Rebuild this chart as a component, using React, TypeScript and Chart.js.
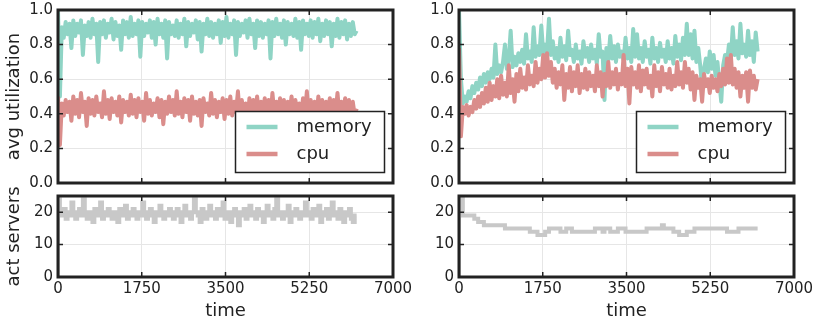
import React, { useEffect, useRef } from 'react';
import { Chart, registerables } from 'chart.js';

Chart.register(...registerables);

const FONT = "'DejaVu Sans', sans-serif";
const INK = '#222222';
const MEM_COLOR = '#8fd4c5';
const CPU_COLOR = '#da8d8b';
const SRV_COLOR = '#c8c8c8';
const GRID_COLOR = '#e6e6e6';

// simulation time between samples
const SAMPLE_STEP = 40;
const TIME_MAX = 7000;
const TIME_TICK = 1750;

const SERIES_LABELS = ['memory', 'cpu'];
const Y_TITLE_TOP = 'avg utilization';
const Y_TITLE_BOTTOM = 'act servers';
const X_TITLE = 'time';

const leftMemory = [
  1.00, 0.50, 0.90, 0.84, 0.93, 0.86, 0.92, 0.78, 0.94, 0.85,
  0.92, 0.87, 0.94, 0.74, 0.91, 0.85, 0.93, 0.84, 0.95, 0.86,
  0.92, 0.70, 0.93, 0.86, 0.94, 0.84, 0.92, 0.87, 0.95, 0.83,
  0.93, 0.85, 0.91, 0.77, 0.94, 0.86, 0.93, 0.84, 0.96, 0.85,
  0.92, 0.86, 0.94, 0.73, 0.93, 0.85, 0.92, 0.87, 0.94, 0.84,
  0.93, 0.80, 0.95, 0.86, 0.92, 0.84, 0.94, 0.72, 0.93, 0.86,
  0.91, 0.85, 0.94, 0.84, 0.92, 0.86, 0.95, 0.79, 0.93, 0.85,
  0.92, 0.87, 0.94, 0.83, 0.93, 0.76, 0.92, 0.86, 0.95, 0.85,
  0.93, 0.84, 0.92, 0.86, 0.94, 0.81, 0.93, 0.85, 0.96, 0.84,
  0.92, 0.86, 0.94, 0.74, 0.93, 0.85, 0.92, 0.87, 0.94, 0.84,
  0.95, 0.86, 0.92, 0.78, 0.94, 0.85, 0.93, 0.84, 0.92, 0.86,
  0.94, 0.72, 0.93, 0.85, 0.95, 0.86, 0.92, 0.84, 0.94, 0.80,
  0.93, 0.86, 0.92, 0.85, 0.95, 0.84, 0.93, 0.77, 0.94, 0.86,
  0.92, 0.85, 0.94, 0.84, 0.93, 0.86, 0.95, 0.82, 0.92, 0.85,
  0.94, 0.86, 0.93, 0.79, 0.92, 0.85, 0.95, 0.84, 0.93, 0.86,
  0.94, 0.83, 0.92, 0.85, 0.93, 0.86, 0.88,
];

const leftCpu = [
  0.50, 0.22, 0.46, 0.39, 0.48, 0.41, 0.47, 0.36, 0.50, 0.40,
  0.48, 0.38, 0.52, 0.41, 0.47, 0.33, 0.49, 0.40, 0.48, 0.39,
  0.50, 0.41, 0.46, 0.38, 0.53, 0.40, 0.48, 0.37, 0.49, 0.41,
  0.47, 0.39, 0.50, 0.35, 0.48, 0.41, 0.47, 0.39, 0.51, 0.40,
  0.48, 0.38, 0.49, 0.41, 0.47, 0.36, 0.52, 0.40, 0.48, 0.39,
  0.46, 0.41, 0.49, 0.38, 0.48, 0.34, 0.47, 0.40, 0.50, 0.41,
  0.48, 0.39, 0.53, 0.40, 0.47, 0.38, 0.49, 0.41, 0.48, 0.36,
  0.50, 0.40, 0.47, 0.39, 0.48, 0.33, 0.49, 0.41, 0.46, 0.39,
  0.52, 0.40, 0.48, 0.38, 0.47, 0.41, 0.49, 0.37, 0.48, 0.40,
  0.50, 0.39, 0.47, 0.41, 0.53, 0.38, 0.48, 0.40, 0.46, 0.35,
  0.49, 0.41, 0.48, 0.39, 0.50, 0.40, 0.47, 0.38, 0.49, 0.41,
  0.48, 0.36, 0.52, 0.40, 0.47, 0.39, 0.49, 0.41, 0.48, 0.34,
  0.47, 0.40, 0.50, 0.39, 0.48, 0.41, 0.46, 0.38, 0.49, 0.40,
  0.53, 0.39, 0.48, 0.41, 0.47, 0.37, 0.50, 0.40, 0.48, 0.39,
  0.47, 0.41, 0.49, 0.38, 0.48, 0.40, 0.52, 0.39, 0.47, 0.41,
  0.49, 0.37, 0.48, 0.40, 0.47, 0.39, 0.43,
];

const leftServers = [
  0, 24, 20, 19, 21, 18, 20, 19, 23, 20,
  18, 20, 21, 19, 24, 20, 18, 19, 20, 17,
  21, 19, 20, 23, 18, 20, 19, 21, 20, 18,
  20, 19, 17, 21, 20, 19, 22, 18, 20, 19,
  21, 20, 18, 19, 20, 23, 19, 18, 20, 21,
  19, 17, 20, 19, 22, 20, 18, 20, 19, 21,
  20, 18, 19, 21, 20, 17, 20, 22, 19, 20,
  18, 20, 24, 20, 19, 17, 21, 20, 18, 19,
  22, 20, 19, 18, 21, 19, 20, 23, 18, 20,
  19, 17, 20, 21, 19, 16, 20, 19, 21, 18,
  20, 22, 19, 20, 18, 21, 20, 19, 17, 20,
  22, 19, 20, 18, 21, 24, 19, 20, 18, 20,
  19, 22, 17, 20, 19, 21, 20, 18, 19, 20,
  23, 19, 20, 18, 21, 19, 20, 22, 17, 20,
  19, 21, 18, 20, 23, 19, 20, 18, 21, 19,
  17, 20, 19, 21, 18, 17, 19,
];

const rightMemory = [
  1.00, 0.60, 0.46, 0.50, 0.47, 0.53, 0.49, 0.56, 0.52, 0.58,
  0.54, 0.61, 0.56, 0.63, 0.58, 0.64, 0.60, 0.66, 0.61, 0.80,
  0.63, 0.68, 0.64, 0.70, 0.80, 0.66, 0.72, 0.88, 0.67, 0.73,
  0.68, 0.75, 0.70, 0.77, 0.69, 0.86, 0.72, 0.76, 0.70, 0.90,
  0.73, 0.79, 0.74, 0.91, 0.75, 0.80, 0.76, 0.95, 0.74, 0.82,
  0.72, 0.78, 0.70, 0.84, 0.73, 0.79, 0.71, 0.88, 0.74, 0.77,
  0.70, 0.80, 0.72, 0.76, 0.69, 0.82, 0.73, 0.78, 0.70, 0.80,
  0.72, 0.77, 0.69, 0.86, 0.73, 0.76, 0.48, 0.78, 0.71, 0.85,
  0.72, 0.79, 0.70, 0.80, 0.73, 0.76, 0.71, 0.84, 0.72, 0.78,
  0.70, 0.89, 0.73, 0.86, 0.72, 0.78, 0.70, 0.82, 0.73, 0.77,
  0.69, 0.84, 0.72, 0.78, 0.70, 0.81, 0.73, 0.77, 0.70, 0.82,
  0.72, 0.78, 0.69, 0.85, 0.73, 0.80, 0.71, 0.84, 0.74, 0.92,
  0.74, 0.86, 0.72, 0.88, 0.70, 0.78, 0.68, 0.55, 0.66, 0.72,
  0.64, 0.76, 0.66, 0.74, 0.62, 0.70, 0.58, 0.47, 0.68, 0.74,
  0.70, 0.80, 0.72, 0.90, 0.74, 0.82, 0.72, 0.92, 0.75, 0.80,
  0.73, 0.88, 0.74, 0.82, 0.70, 0.87, 0.76,
];

const rightCpu = [
  0.78, 0.27, 0.44, 0.40, 0.45, 0.39, 0.44, 0.41, 0.48, 0.43,
  0.50, 0.44, 0.52, 0.46, 0.55, 0.47, 0.58, 0.48, 0.56, 0.50,
  0.60, 0.49, 0.62, 0.51, 0.58, 0.50, 0.68, 0.52, 0.60, 0.47,
  0.63, 0.53, 0.66, 0.55, 0.61, 0.54, 0.68, 0.57, 0.62, 0.56,
  0.70, 0.58, 0.66, 0.60, 0.74, 0.61, 0.75, 0.62, 0.70, 0.58,
  0.66, 0.55, 0.64, 0.57, 0.68, 0.48, 0.63, 0.55, 0.67, 0.53,
  0.64, 0.56, 0.68, 0.52, 0.63, 0.55, 0.66, 0.54, 0.64, 0.56,
  0.62, 0.53, 0.68, 0.56, 0.64, 0.50, 0.63, 0.56, 0.70, 0.55,
  0.64, 0.57, 0.66, 0.54, 0.63, 0.57, 0.74, 0.56, 0.66, 0.46,
  0.67, 0.57, 0.64, 0.55, 0.68, 0.53, 0.65, 0.57, 0.66, 0.55,
  0.62, 0.50, 0.68, 0.56, 0.64, 0.53, 0.67, 0.57, 0.63, 0.55,
  0.66, 0.54, 0.62, 0.56, 0.70, 0.57, 0.64, 0.55, 0.70, 0.58,
  0.66, 0.54, 0.64, 0.48, 0.62, 0.55, 0.60, 0.47, 0.63, 0.56,
  0.60, 0.52, 0.62, 0.55, 0.60, 0.53, 0.63, 0.56, 0.66, 0.57,
  0.72, 0.58, 0.74, 0.57, 0.66, 0.55, 0.64, 0.50, 0.62, 0.55,
  0.64, 0.47, 0.65, 0.55, 0.62, 0.54, 0.60,
];

const rightServers = [
  0, 25, 25, 19, 19, 19, 19, 19, 19, 18,
  18, 17, 17, 17, 16, 16, 16, 16, 16, 16,
  16, 16, 16, 16, 16, 15, 15, 15, 15, 15,
  15, 15, 15, 15, 15, 15, 15, 15, 14, 14,
  14, 14, 13, 13, 13, 13, 14, 14, 15, 15,
  15, 15, 15, 15, 14, 14, 14, 15, 15, 15,
  14, 14, 14, 14, 14, 14, 14, 14, 14, 14,
  14, 14, 15, 15, 15, 15, 14, 15, 15, 15,
  14, 14, 14, 14, 15, 15, 15, 15, 14, 14,
  14, 14, 14, 14, 14, 14, 14, 14, 14, 15,
  15, 15, 15, 15, 15, 15, 15, 16, 15, 15,
  15, 15, 15, 14, 14, 14, 13, 13, 13, 13,
  14, 14, 14, 14, 15, 15, 15, 15, 15, 15,
  15, 15, 15, 15, 15, 15, 15, 15, 15, 15,
  15, 14, 14, 14, 14, 14, 14, 15, 15, 15,
  15, 15, 15, 15, 15, 15, 15,
];

const toPoints = (vals: number[]) => vals.map((v, i) => ({ x: i * SAMPLE_STEP, y: v }));

const frameLegendPlugin = {
  id: 'frameLegend',
  afterDatasetsDraw(chart: any, _args: any, opts: any) {
    const { ctx, chartArea, scales } = chart;
    const { left, right, top, bottom } = chartArea;
    ctx.save();
    // inward tick marks on all four sides
    ctx.strokeStyle = INK;
    ctx.lineWidth = 1.5;
    const L = 5;
    ctx.beginPath();
    scales.x.ticks.forEach((t: any) => {
      const px = scales.x.getPixelForValue(t.value);
      ctx.moveTo(px, bottom);
      ctx.lineTo(px, bottom - L);
      ctx.moveTo(px, top);
      ctx.lineTo(px, top + L);
    });
    scales.y.ticks.forEach((t: any) => {
      const py = scales.y.getPixelForValue(t.value);
      ctx.moveTo(left, py);
      ctx.lineTo(left + L, py);
      ctx.moveTo(right, py);
      ctx.lineTo(right - L, py);
    });
    ctx.stroke();
    // frame
    ctx.lineWidth = 3;
    ctx.strokeRect(left, top, right - left, bottom - top);

    if (opts && opts.show) {
      const bw = 149;
      const bh = 61;
      const bx = right - 8.5 - bw;
      const by = bottom - 10.5 - bh;
      ctx.fillStyle = '#ffffff';
      ctx.fillRect(bx, by, bw, bh);
      ctx.lineWidth = 1.5;
      ctx.strokeStyle = INK;
      ctx.strokeRect(bx, by, bw, bh);
      ctx.font = `18px ${FONT}`;
      ctx.textBaseline = 'middle';
      ctx.textAlign = 'left';
      chart.data.datasets.forEach((ds: any, i: number) => {
        const y = by + 15.5 + i * 27;
        ctx.strokeStyle = ds.borderColor;
        ctx.lineWidth = 4.5;
        ctx.lineCap = 'butt';
        ctx.beginPath();
        ctx.moveTo(bx + 11, y);
        ctx.lineTo(bx + 42, y);
        ctx.stroke();
        ctx.fillStyle = INK;
        ctx.fillText(ds.label, bx + 61, y + 0.5);
      });
    }
    ctx.restore();
  },
};

type PanelSpec = {
  x: number;
  y: number;
  w: number;
  h: number;
  pad: { left: number; right: number; top: number; bottom: number };
  yWidth: number;
  xHeight: number;
  showX: boolean;
  yTitle: string | null;
  top: boolean;
  datasets: any[];
};

function buildConfig(p: PanelSpec): any {
  const yScale: any = p.top
    ? { min: 0, max: 1, ticks: { stepSize: 0.2, callback: (v: any) => Number(v).toFixed(1) } }
    : { min: 0, max: 25, ticks: { stepSize: 10, includeBounds: false, callback: (v: any) => String(v) } };
  return {
    type: 'line',
    data: { datasets: p.datasets },
    options: {
      responsive: false,
      maintainAspectRatio: false,
      animation: false,
      devicePixelRatio: 1,
      events: [],
      layout: { padding: p.pad },
      plugins: {
        legend: { display: false },
        tooltip: { enabled: false },
        frameLegend: { show: p.top },
      },
      scales: {
        x: {
          type: 'linear',
          min: 0,
          max: TIME_MAX,
          ticks: {
            stepSize: TIME_TICK,
            display: p.showX,
            autoSkip: false,
            maxRotation: 0,
            padding: 3,
            color: INK,
            font: { family: FONT, size: 15 },
            callback: (v: any) => String(v),
          },
          grid: { color: GRID_COLOR, lineWidth: 1, drawTicks: false },
          border: { display: false },
          title: {
            display: p.showX,
            text: X_TITLE,
            color: INK,
            font: { family: FONT, size: 18 },
            padding: { top: 0, bottom: 2 },
          },
          afterFit: (s: any) => {
            s.height = p.xHeight;
            s.paddingLeft = 0;
            s.paddingRight = 0;
          },
        },
        y: {
          type: 'linear',
          ...yScale,
          ticks: {
            ...yScale.ticks,
            padding: 5,
            color: INK,
            font: { family: FONT, size: 15 },
          },
          grid: { color: GRID_COLOR, lineWidth: 1, drawTicks: false },
          border: { display: false },
          title: {
            display: !!p.yTitle,
            text: p.yTitle || '',
            color: INK,
            font: { family: FONT, size: 18 },
            padding: { top: 4, bottom: 0 },
          },
          afterFit: (s: any) => {
            s.width = p.yWidth;
            s.paddingTop = 0;
            s.paddingBottom = 0;
          },
        },
      },
    },
    plugins: [frameLegendPlugin],
  };
}

const lineStyle = {
  pointRadius: 0,
  borderWidth: 4,
  tension: 0,
  fill: false,
  clip: 0,
  borderJoinStyle: 'round',
};

function utilDatasets(mem: number[], cpu: number[]) {
  return [
    { ...lineStyle, label: SERIES_LABELS[0], data: toPoints(mem), borderColor: MEM_COLOR, order: 2 },
    { ...lineStyle, label: SERIES_LABELS[1], data: toPoints(cpu), borderColor: CPU_COLOR, order: 1 },
  ];
}

function serverDatasets(srv: number[]) {
  return [
    { ...lineStyle, label: 'servers', data: toPoints(srv), borderColor: SRV_COLOR, stepped: 'after', borderJoinStyle: 'miter' },
  ];
}

function Panel({ spec }: { spec: PanelSpec }) {
  const ref = useRef<HTMLCanvasElement | null>(null);
  useEffect(() => {
    if (!ref.current) return;
    const chart = new Chart(ref.current, buildConfig(spec));
    return () => chart.destroy();
  }, []);
  return (
    <canvas
      ref={ref}
      width={spec.w}
      height={spec.h}
      style={{ position: 'absolute', left: spec.x, top: spec.y, width: spec.w, height: spec.h }}
    />
  );
}

const panels: PanelSpec[] = [
  {
    x: 0, y: 0, w: 416, h: 190,
    pad: { left: 0, right: 23, top: 10, bottom: 7 },
    yWidth: 58, xHeight: 0, showX: false, yTitle: Y_TITLE_TOP, top: true,
    datasets: utilDatasets(leftMemory, leftCpu),
  },
  {
    x: 0, y: 170, w: 416, h: 154,
    pad: { left: 0, right: 23, top: 26, bottom: 0 },
    yWidth: 58, xHeight: 47, showX: true, yTitle: Y_TITLE_BOTTOM, top: false,
    datasets: serverDatasets(leftServers),
  },
  {
    x: 400, y: 0, w: 416, h: 190,
    pad: { left: 0, right: 22, top: 10, bottom: 7 },
    yWidth: 59, xHeight: 0, showX: false, yTitle: null, top: true,
    datasets: utilDatasets(rightMemory, rightCpu),
  },
  {
    x: 400, y: 170, w: 416, h: 154,
    pad: { left: 0, right: 22, top: 26, bottom: 0 },
    yWidth: 59, xHeight: 47, showX: true, yTitle: null, top: false,
    datasets: serverDatasets(rightServers),
  },
];

export default function App() {
  return (
    <div style={{ position: 'absolute', left: 0, top: 0, width: 816, height: 324, background: '#ffffff', overflow: 'hidden' }}>
      {panels.map((p, i) => (
        <Panel key={i} spec={p} />
      ))}
    </div>
  );
}
